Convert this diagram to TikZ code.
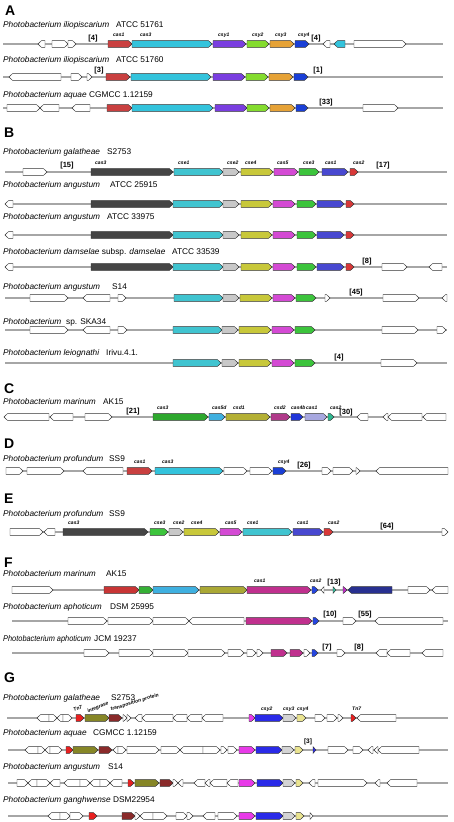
\documentclass[tikz,border=0pt]{standalone}
\usepackage{fontspec}
\setmainfont{Liberation Sans}
\definecolor{gW}{HTML}{FFFFFF}
\definecolor{cRed}{HTML}{C94040}\definecolor{cCyan}{HTML}{33C3DC}\definecolor{cPurp}{HTML}{7A3EE0}
\definecolor{cGrn}{HTML}{84DC2E}\definecolor{cOrg}{HTML}{E6A236}\definecolor{cBlu}{HTML}{1A3FD6}
\definecolor{cDark}{HTML}{454545}\definecolor{cCy2}{HTML}{40C4D0}\definecolor{cGry}{HTML}{C8C8C8}
\definecolor{cYel}{HTML}{C8C83A}\definecolor{cMag}{HTML}{D44AD4}\definecolor{cGr2}{HTML}{3CC43C}
\definecolor{cBl2}{HTML}{4848D0}\definecolor{cRd2}{HTML}{D83838}
\definecolor{cGr3}{HTML}{2EA82E}\definecolor{cLb}{HTML}{3FB0E0}\definecolor{cOl}{HTML}{B4B035}
\definecolor{cCsd}{HTML}{B03A8A}\definecolor{cBl3}{HTML}{2035D8}\definecolor{cLav}{HTML}{A8A8E0}
\definecolor{cTeal}{HTML}{2EB890}
\definecolor{fRed}{HTML}{C83535}\definecolor{fGrn}{HTML}{35B035}\definecolor{fBlu}{HTML}{3FB0E0}
\definecolor{fOl}{HTML}{AAA835}\definecolor{fMag}{HTML}{C0308E}\definecolor{fBl}{HTML}{2545E0}
\definecolor{fTeal}{HTML}{35C0A0}\definecolor{fPur}{HTML}{C030C8}\definecolor{fNav}{HTML}{283090}
\definecolor{hRed}{HTML}{E82020}\definecolor{hOl}{HTML}{868626}\definecolor{hDr}{HTML}{8A2A2A}
\definecolor{hMag}{HTML}{E83AE8}\definecolor{hBl}{HTML}{2A2AE8}\definecolor{hGr}{HTML}{D4D4D4}
\definecolor{hYe}{HTML}{EAE490}
\tikzset{
 gene/.style={draw=black!80, line width=0.45pt, line join=miter},
 bb/.style={draw=black!35, line width=1.1pt},
 ttl/.style={anchor=base west, inner sep=0pt, font=\fontsize{8.3}{9}\selectfont},
 glab/.style={anchor=base west, inner sep=0pt, font=\fontsize{5}{5}\selectfont\bfseries\itshape},
 brk/.style={inner sep=0pt, font=\fontsize{7.5}{8}\selectfont\bfseries},
 sec/.style={anchor=base west, inner sep=0pt, font=\fontsize{14}{14}\selectfont\bfseries},
}
% genes: y, list of start/end(tip)/colour
\newcommand\genes[2]{%
 \foreach \xa/\xb/\xk in {#2}{%
  \pgfmathsetmacro\tb{\xb-(\xb-\xa)*min(1,3.5/abs(\xb-\xa))}%
  \draw[gene,fill=\xk] (\xa,#1-3.4) -- (\tb,#1-3.4) -- (\xb,#1) -- (\tb,#1+3.4) -- (\xa,#1+3.4) -- cycle;}}
\newcommand\glabs[2]{%
 \foreach \xx/\xt in {#2}{\node[glab] (l-\xx-#1) at (\xx,#1-7.6) {\xt};}}
\newcommand\bbone[3]{\draw[bb] (#2,#1) -- (#3,#1);}
\newcommand\ttl[4]{\node[ttl] (s-#1) at (3,#1) {#2}; \node[ttl] (t-#1) at (#3,#1) {#4};}
\newcommand\brk[3]{\node[brk] (b-#1-#2) at (#1,#2) {[#3]};}
\begin{document}
\begin{tikzpicture}[x=1pt,y=-1pt]
\useasboundingbox (0,0) rectangle (454,822);
\fill[white] (0,0) rectangle (454,822);
% section letters
\node[sec] (A) at (5,15) {A};
\node[sec] (B) at (4,137) {B};
\node[sec] (C) at (4,393) {C};
\node[sec] (D) at (4,448) {D};
\node[sec] (E) at (4,503) {E};
\node[sec] (F) at (4,567) {F};
\node[sec] (G) at (4,682) {G};
% titles
\ttl{27}{\itshape Photobacterium iliopiscarium}{116}{ATCC 51761}
\ttl{62.7}{\itshape Photobacterium iliopiscarium}{116}{ATCC 51760}
\ttl{97}{\itshape Photobacterium aquae}{89}{CGMCC 1.12159}
\ttl{154.7}{\itshape Photobacterium galatheae}{107}{S2753}
\ttl{187}{\itshape Photobacterium angustum}{110}{ATCC 25915}
\ttl{219.7}{\itshape Photobacterium angustum}{107}{ATCC 33975}
\ttl{254}{{\itshape Photobacterium damselae} subsp. {\itshape damselae}}{172}{ATCC 33539}
\ttl{289}{\itshape Photobacterium angustum}{112}{S14}
\ttl{324.5}{\itshape Photobacterium}{66}{sp. SKA34}
\ttl{355}{\itshape Photobacterium leiognathi}{106}{Irivu.4.1.}
\ttl{404}{\itshape Photobacterium marinum}{103}{AK15}
\ttl{461.7}{\itshape Photobacterium profundum}{109}{SS9}
\ttl{516.7}{\itshape Photobacterium profundum}{109}{SS9}
\ttl{576.7}{\itshape Photobacterium marinum}{106}{AK15}
\ttl{609}{\itshape Photobacterium aphoticum}{110}{DSM 25995}
\ttl{641}{\scalebox{0.89}[1]{\itshape Photobacterium aphoticum}}{94}{JCM 19237}
\ttl{700.7}{\itshape Photobacterium galatheae}{111}{S2753}
\ttl{735}{\itshape Photobacterium aquae}{93}{CGMCC 1.12159}
\ttl{769}{\itshape Photobacterium angustum}{108}{S14}
\ttl{802}{\itshape Photobacterium ganghwense}{113}{DSM22954}
% backbones
\bbone{44}{3}{443}\bbone{77}{3}{443}\bbone{108}{3}{443}
\bbone{172}{5}{447}\bbone{204}{5}{447}\bbone{235}{5}{447}\bbone{267}{5}{447}
\bbone{298}{5}{447}\bbone{330}{5}{447}\bbone{363}{5}{447}
\bbone{417}{4}{446}\bbone{471}{6}{448}\bbone{532}{10}{448}
\bbone{590}{12}{448}\bbone{621}{12}{448}\bbone{653}{12}{443}
\bbone{718}{7}{448}\bbone{750}{8}{448}\bbone{783}{8}{448}\bbone{816}{8}{448}
% A
\genes{44}{45/38/gW, 52/68/gW, 68/76/gW, 108/132/cRed, 132/212/cCyan, 213/246/cPurp, 247/269/cGrn, 270/294/cOrg, 295/309/cBlu, 330/323/gW, 345/334/cCyan, 354/406/gW}
\glabs{44}{113/cas1, 140/cas3, 218/csy1, 252/csy2, 275/csy3, 298/csy4}
\genes{77}{61/9/gW, 71/82/gW, 87/92/gW, 106/130/cRed, 131/211/cCyan, 213/245/cPurp, 246/268/cGrn, 269/293/cOrg, 294/308/cBlu}
\genes{108}{7/40/gW, 59/40/gW, 90/72/gW, 107/132/cRed, 132/213/cCyan, 215/247/cPurp, 247/269/cGrn, 270/295/cOrg, 296/308/cBlu, 363/398/gW}
\brk{93}{39}{4}\brk{316}{39}{4}\brk{99}{71}{3}\brk{318}{71}{1}\brk{326}{103}{33}
% B
\genes{172}{23/47/gW, 91/173/cDark, 174/223/cCy2, 223/239/cGry, 241/273/cYel, 274/298/cMag, 299/319/cGr2, 322/348/cBl2, 350/358/cRd2}
\glabs{172}{95/cas3, 178/cse1, 227/cse2, 245/cse4, 277/cas5, 303/cse3, 325/cas1, 353/cas2}
\genes{204}{13/5/gW, 91/173/cDark, 173/223/cCy2, 223/239/cGry, 241/272/cYel, 273/295/cMag, 297/316/cGr2, 317/344/cBl2, 346/354/cRd2}
\genes{235}{13/5/gW, 91/173/cDark, 173/223/cCy2, 223/239/cGry, 241/272/cYel, 273/295/cMag, 297/316/cGr2, 317/344/cBl2, 346/354/cRd2}
\genes{267}{13/5/gW, 91/173/cDark, 173/223/cCy2, 223/239/cGry, 241/272/cYel, 273/295/cMag, 297/316/cGr2, 317/344/cBl2, 346/354/cRd2, 382/407/gW, 442/429/gW}
\genes{298}{30/68/gW, 110/83/gW, 118/126/gW, 174/223/cCy2, 223/239/cGry, 240/272/cYel, 273/295/cMag, 296/316/cGr2, 325/330/gW, 383/419/gW, 447/442/gW}
\genes{330}{30/68/gW, 110/83/gW, 118/127/gW, 173/222/cCy2, 222/238/cGry, 239/271/cYel, 272/294/cMag, 295/315/cGr2, 382/418/gW, 437/446/gW}
\genes{363}{173/221/cCy2, 222/238/cGry, 239/271/cYel, 272/294/cMag, 295/315/cGr2, 381/417/gW}
\brk{67}{166}{15}\brk{383}{166}{17}\brk{367}{262}{8}\brk{356}{293}{45}\brk{339}{358}{4}
% C
\genes{417}{49/4/gW, 73/50/gW, 85/112/gW, 153/208/cGr3, 209/225/cLb, 226/270/cOl, 271/290/cCsd, 291/303/cBl3, 305/327/cLav, 328/334/cTeal, 368/357/gW, 388/383/gW, 422/388/gW, 446/423/gW}
\glabs{417}{157/cas3, 212/cas5d, 233/csd1, 274/csd2, 291/cas4b, 306/cas1, 330/cas2}
\brk{133}{412}{21}\brk{346}{413}{30}
% D
\genes{471}{6/23/gW, 27/64/gW, 123/83/gW, 127/152/cRed, 155/223/cCyan, 224/247/gW, 250/272/gW, 273/286/cBlu, 322/331/gW, 333/353/gW, 356/360/gW, 448/376/gW}
\glabs{471}{134/cas1, 162/cas3, 278/csy4}
\brk{304}{466}{26}
% E
\genes{532}{10/43/gW, 55/44/gW, 63/148/cDark, 150/168/cGr2, 169/183/cGry, 184/219/cYel, 220/242/cMag, 243/292/cCy2, 293/323/cBl2, 324/333/cRd2, 442/448/gW}
\glabs{532}{68/cas3, 154/cse3, 173/cse2, 191/cse4, 225/cas5, 247/cse1, 297/cas1, 328/cas2}
\brk{387}{527}{64}
% F
\genes{590}{12/53/gW, 104/139/fRed, 139/153/fGrn, 153/199/fBlu, 200/247/fOl, 247/311/fMag, 312/318/fBl, 324/321/gW, 333/336/fTeal, 343/347/fPur, 392/348/fNav, 408/430/gW, 448/432/gW}
\glabs{590}{254/cas1, 310/cas2}
\genes{621}{68/107/gW, 108/153/gW, 153/189/gW, 244/189/gW, 246/312/fMag, 313/319/fBl, 343/356/gW, 443/375/gW}
\genes{653}{84/109/gW, 119/153/gW, 153/188/gW, 188/225/gW, 228/244/gW, 247/256/gW, 257/263/gW, 271/287/fMag, 290/303/fMag, 304/310/gW, 312/318/fBl, 337/345/gW, 387/376/gW, 410/387/gW, 443/422/gW}
\brk{334}{583}{13}\brk{330}{615}{10}\brk{365}{615}{55}\brk{327}{648}{7}\brk{359}{648}{8}
% G
\genes{718}{49/37/gW, 49/57/gW, 63/57/gW, 63/72/gW, 76/84/hRed, 85/109/hOl, 109/122/hDr, 123/127/gW, 127/131/gW, 142/135/gW, 173/142/gW, 187/173/gW, 202/187/gW, 223/202/gW, 249/255/hMag, 255/283/hBl, 283/296/hGr, 297/306/hYe, 315/325/gW, 327/337/gW, 338/343/gW, 351/356/hRed, 396/357/gW}
\glabs{718}{261/csy2, 283/csy3, 297/csy4, 352/Tn7}
\node[glab,rotate=20] (tn7a) at (74,712) {Tn7};
\node[glab,rotate=22] (intg) at (88,713) {integrase};
\node[glab,rotate=17] (trp) at (111,711) {transposition protein};
\genes{750}{38/25/gW, 38/45/gW, 50/45/gW, 50/62/gW, 66/73/hRed, 73/98/hOl, 99/112/hDr, 118/113/gW, 118/126/gW, 127/159/gW, 161/180/gW, 203/180/gW, 203/220/gW, 221/227/gW, 228/237/gW, 239/255/hMag, 256/282/hBl, 282/294/hGr, 295/303/hYe, 313/316/hBl, 328/348/gW, 353/363/gW, 373/368/gW, 378/374/gW, 419/378/gW}
\node[brk,font=\fontsize{6.5}{7}\selectfont\bfseries] (b3g) at (308,742) {[3]};
\genes{783}{17/28/gW, 37/28/gW, 37/50/gW, 60/50/gW, 80/64/gW, 80/90/gW, 100/90/gW, 100/110/gW, 122/110/gW, 128/134/hRed, 135/159/hOl, 160/173/hDr, 173/178/gW, 183/178/gW, 205/194/gW, 210/205/gW, 227/210/gW, 238/227/gW, 239/255/hMag, 257/283/hBl, 283/295/hGr, 296/303/hYe, 315/309/gW, 318/367/gW, 380/375/gW, 417/387/gW}
\genes{816}{60/48/gW, 60/70/gW, 70/83/gW, 89/97/hRed, 122/135/hDr, 135/140/gW, 153/140/gW, 153/167/gW, 176/187/gW, 187/193/gW, 215/203/gW, 218/237/gW, 239/255/hMag, 256/283/hBl, 283/295/hGr, 296/304/hYe, 310/313/gW}
\end{tikzpicture}
\end{document}
